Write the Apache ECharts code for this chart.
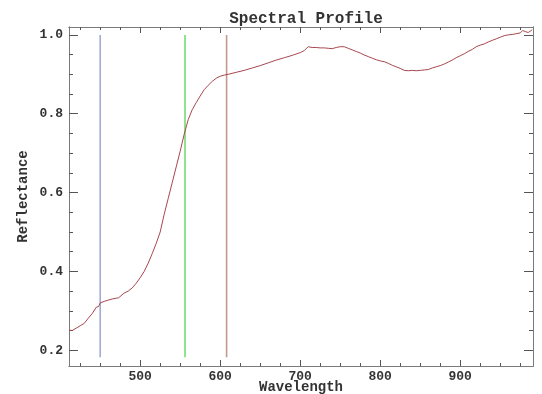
<!DOCTYPE html>
<html><head><meta charset="utf-8">
<script src="https://cdn.jsdelivr.net/npm/echarts@6/dist/echarts.min.js"></script>
<style>html,body{margin:0;padding:0;background:#fff}#c{width:542px;height:394px}</style>
</head><body><div id="c"></div>
<script>
var wavelengths = [411,415,420,425,430,435,440,445,448,450,455,460,465,470,473,475,480,485,490,495,500,505,510,515,520,525,530,535,540,545,550,555,560,565,570,575,580,585,590,595,600,605,610,620,630,640,650,660,670,680,690,700,705,710,715,720,725,730,735,740,745,750,755,760,765,770,775,780,785,790,795,800,805,810,815,820,825,830,835,840,845,850,855,860,865,870,875,880,885,890,895,900,905,910,915,920,925,930,935,940,945,950,955,960,965,970,975,978,982,985,988,990];
var reflectance = [0.251,0.250,0.256,0.262,0.268,0.281,0.293,0.309,0.311,0.320,0.324,0.327,0.330,0.332,0.333,0.338,0.345,0.350,0.358,0.370,0.384,0.400,0.421,0.445,0.471,0.500,0.545,0.585,0.625,0.665,0.705,0.748,0.785,0.810,0.828,0.845,0.861,0.872,0.882,0.890,0.895,0.898,0.900,0.905,0.910,0.916,0.922,0.929,0.936,0.942,0.948,0.955,0.960,0.970,0.968,0.968,0.967,0.967,0.966,0.965,0.968,0.970,0.970,0.966,0.962,0.958,0.954,0.949,0.945,0.941,0.937,0.934,0.932,0.928,0.923,0.919,0.915,0.910,0.909,0.910,0.909,0.910,0.911,0.912,0.916,0.919,0.922,0.926,0.931,0.936,0.942,0.947,0.952,0.958,0.963,0.970,0.974,0.977,0.982,0.986,0.990,0.994,0.998,1.000,1.001,1.003,1.005,1.011,1.008,1.006,1.010,1.013];
var markerWavelengths = [450, 556, 608];
var markerColors = ['#a4aad2', '#74dc74', '#c49890'];
var markerRange = [0.182, 1.0];
var xTickLabels = [500, 600, 700, 800, 900];
var xMinorTicks = [425,450,475,525,550,575,625,650,675,725,750,775,825,850,875,925,950,975];
var yTickLabels = [0.2, 0.4, 0.6, 0.8, 1.0];
var yMinorTicks = [0.25,0.3,0.35,0.45,0.5,0.55,0.65,0.7,0.75,0.85,0.9,0.95];

var FONT = 'Liberation Mono';
var AXC = '#7a7a7a';
var xMin = 411, xMax = 991, yMin = 0.16, yMax = 1.02;

function xAx(pos, ticks, len, labels, extra) {
  var a = {
    type: 'value', position: pos, min: xMin, max: xMax,
    axisLine: {show: true, onZero: false, lineStyle: {color: AXC, width: 1}},
    axisTick: {show: true, inside: true, length: len, customValues: ticks, lineStyle: {color: '#555', width: 1}},
    axisLabel: labels ? {show: true, customValues: labels, margin: 4, fontFamily: FONT, fontWeight: 'bold', fontSize: 13, color: '#333'} : {show: false},
    splitLine: {show: false}
  };
  return Object.assign(a, extra || {});
}
function yAx(pos, ticks, len, labels, extra) {
  var a = {
    type: 'value', position: pos, min: yMin, max: yMax,
    axisLine: {show: true, onZero: false, lineStyle: {color: AXC, width: 1}},
    axisTick: {show: true, inside: true, length: len, customValues: ticks, lineStyle: {color: '#555', width: 1}},
    axisLabel: labels ? {show: true, customValues: labels, margin: 6, fontFamily: FONT, fontWeight: 'bold', fontSize: 13, color: '#333', formatter: function(v){return v.toFixed(1);}} : {show: false},
    splitLine: {show: false}
  };
  return Object.assign(a, extra || {});
}

var series = [];
markerWavelengths.forEach(function(w, i) {
  series.push({
    type: 'line', xAxisIndex: 0, yAxisIndex: 0, symbol: 'none', silent: true,
    data: [[w, markerRange[0]], [w, markerRange[1]]],
    lineStyle: {color: markerColors[i], width: 1.6}
  });
});
series.push({
  type: 'line', xAxisIndex: 0, yAxisIndex: 0, symbol: 'none',
  data: wavelengths.map(function(w, i){ return [w, reflectance[i]]; }),
  lineStyle: {color: '#a8474f', width: 1}
});

var chart = echarts.init(document.getElementById('c'), null, {renderer: 'canvas'});
chart.setOption({
  animation: false,
  backgroundColor: '#fff',
  title: {text: 'Spectral Profile', left: 301, textAlign: 'center', top: 6,
    textStyle: {fontFamily: FONT, fontWeight: 'bold', fontSize: 16, color: '#333'}},
  grid: {left: 69, right: 9, top: 27, bottom: 28, containLabel: false, outerBoundsMode: 'none'},
  xAxis: [
    xAx('bottom', xTickLabels, 6, xTickLabels, {name: 'Wavelength', nameLocation: 'middle', nameGap: 14, nameMoveOverlap: false,
      nameTextStyle: {fontFamily: FONT, fontWeight: 'bold', fontSize: 14, color: '#333', verticalAlign: 'top'}}),
    xAx('bottom', xMinorTicks, 3, null),
    xAx('top', xTickLabels, 6, null),
    xAx('top', xMinorTicks, 3, null)
  ],
  yAxis: [
    yAx('left', yTickLabels, 9, yTickLabels, {name: 'Reflectance', nameLocation: 'middle', nameGap: 39, nameRotate: 90, nameMoveOverlap: false,
      nameTextStyle: {fontFamily: FONT, fontWeight: 'bold', fontSize: 14, color: '#333'}}),
    yAx('left', yMinorTicks, 4, null),
    yAx('right', yTickLabels, 9, null),
    yAx('right', yMinorTicks, 4, null)
  ],
  series: series
});
</script></body></html>
